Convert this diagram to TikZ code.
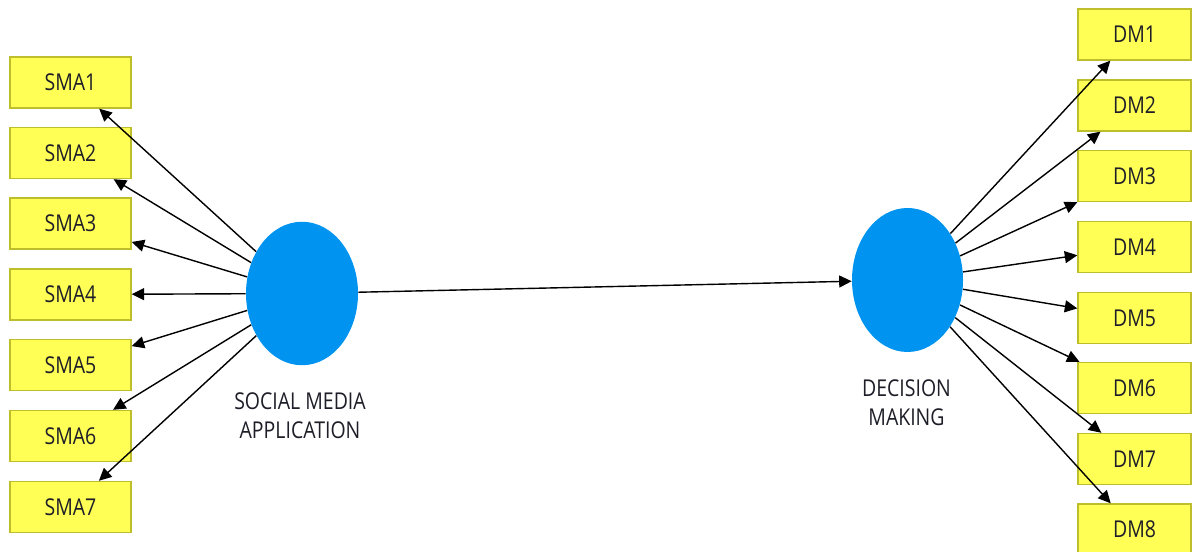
\documentclass[tikz,border=0pt]{standalone}
\usepackage{xcolor}
\usepackage{fontspec}
\usepackage{tikz}
\usetikzlibrary{arrows.meta}
\usetikzlibrary{positioning}
\usetikzlibrary{shapes.geometric}

\newfontfamily\smfont[FakeStretch=0.84]{Open Sans}
\definecolor{indfill}{RGB}{255,255,85}
\definecolor{indedge}{RGB}{190,190,45}
\definecolor{lvfill}{RGB}{0,148,240}
\definecolor{txtdark}{RGB}{30,30,40}

\begin{document}
\begin{tikzpicture}[
                ind/.style = {draw=indedge, fill=indfill, thick, rectangle, inner sep = 0mm,
                              minimum width = 2.42cm, minimum height = 1.02cm,
                              font=\smfont\fontsize{13.2}{15}\selectfont, text=txtdark},
                lv/.style = {ellipse, fill=lvfill, inner sep = 0mm,
                             minimum width = 2.24cm, minimum height = 2.87cm},
                lvlab/.style = {align=center, inner sep = 0mm, text=txtdark,
                                font=\smfont\fontsize{13.2}{16.6}\selectfont},
                arr/.style = {draw, line width=0.8pt, -{Triangle[length=2.5mm, width=2.4mm]}},
            ]
            \useasboundingbox (0,0) rectangle (23.88,11.04);

            \node (sma) [lv] at (6.04,5.17){};
            \node (dm) [lv, minimum width = 2.22cm, minimum height = 2.88cm] at (18.15,5.44){};
            \node (smalab) [lvlab] at (6.0,2.72){SOCIAL MEDIA\\APPLICATION};
            \node (dmlab) [lvlab] at (18.13,2.99){DECISION\\MAKING};

            \node (sma1) [ind] at (1.41,9.39){SMA1};
            \node (sma2) [ind] at (1.41,7.98){SMA2};
            \node (sma3) [ind] at (1.41,6.57){SMA3};
            \node (sma4) [ind] at (1.41,5.15){SMA4};
            \node (sma5) [ind] at (1.41,3.74){SMA5};
            \node (sma6) [ind] at (1.41,2.32){SMA6};
            \node (sma7) [ind] at (1.41,0.90){SMA7};

            \node (dm1) [ind, minimum width = 2.26cm] at (22.69,10.35){DM1};
            \node (dm2) [ind, minimum width = 2.26cm] at (22.69,8.93){DM2};
            \node (dm3) [ind, minimum width = 2.26cm] at (22.69,7.52){DM3};
            \node (dm4) [ind, minimum width = 2.26cm] at (22.69,6.10){DM4};
            \node (dm5) [ind, minimum width = 2.26cm] at (22.69,4.68){DM5};
            \node (dm6) [ind, minimum width = 2.26cm] at (22.69,3.28){DM6};
            \node (dm7) [ind, minimum width = 2.26cm] at (22.69,1.86){DM7};
            \node (dm8) [ind, minimum width = 2.26cm] at (22.69,0.45){DM8};

            \path[arr] (sma) -- (sma1);
            \path[arr] (sma) -- (sma2);
            \path[arr] (sma) -- (sma3);
            \path[arr] (sma) -- (sma4);
            \path[arr] (sma) -- (sma5);
            \path[arr] (sma) -- (sma6);
            \path[arr] (sma) -- (sma7);

            \path[arr] (sma) -- (dm);

            \path[arr] (dm) -- (dm1);
            \path[arr] (dm) -- (dm2);
            \path[arr] (dm) -- (dm3);
            \path[arr] (dm) -- (dm4);
            \path[arr] (dm) -- (dm5);
            \path[arr] (dm) -- (dm6);
            \path[arr] (dm) -- (dm7);
            \path[arr] (dm) -- (dm8);
        \end{tikzpicture}
\end{document}
